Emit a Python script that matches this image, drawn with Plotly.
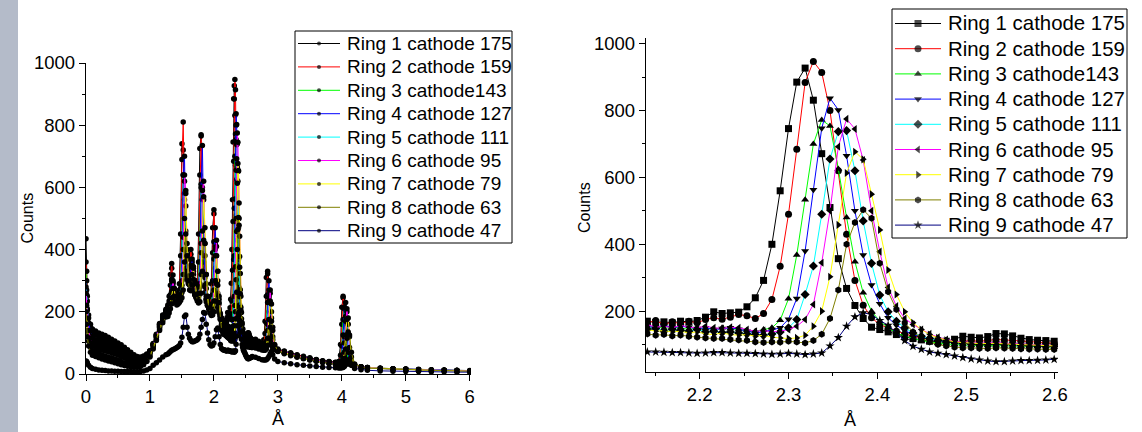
import plotly.graph_objects as go

# ---------------- data ----------------
# d-spacing grid (Å): low-angle part, the 2.14-2.60 Å window, and the high part
x_low = [0, 0.01, 0.02, 0.04, 0.07, 0.1, 0.15, 0.2, 0.25, 0.3, 0.35, 0.4, 0.45, 0.5, 0.55,
         0.6, 0.65, 0.7, 0.75, 0.8, 0.85, 0.9, 0.95, 1.0, 1.05, 1.1, 1.15, 1.2, 1.25,
         1.28, 1.30, 1.32, 1.34, 1.36, 1.38, 1.40, 1.42, 1.44, 1.46, 1.48, 1.50, 1.52, 1.54,
         1.56, 1.58, 1.60, 1.62, 1.64, 1.66, 1.68, 1.70, 1.72, 1.74, 1.76, 1.78, 1.80, 1.82,
         1.84, 1.86, 1.88, 1.90, 1.92, 1.94, 1.96, 1.98, 2.00, 2.02, 2.04, 2.06, 2.08, 2.10, 2.12]
x_zoom = [2.1410, 2.1504, 2.1597, 2.1691, 2.1784, 2.1878, 2.1971, 2.2065, 2.2158, 2.2252,
          2.2345, 2.2439, 2.2532, 2.2626, 2.2719, 2.2813, 2.2906, 2.3000, 2.3093, 2.3187,
          2.3280, 2.3374, 2.3467, 2.3561, 2.3654, 2.3748, 2.3841, 2.3935, 2.4028, 2.4122,
          2.4215, 2.4309, 2.4402, 2.4496, 2.4589, 2.4683, 2.4776, 2.4870, 2.4963, 2.5057,
          2.5150, 2.5244, 2.5337, 2.5431, 2.5524, 2.5618, 2.5711, 2.5805, 2.5898, 2.5992]
x_high = [2.65, 2.7, 2.75, 2.78, 2.8, 2.82, 2.84, 2.86, 2.88, 2.9, 2.92, 2.95, 3.0,
          3.1, 3.2, 3.3, 3.4, 3.5, 3.6, 3.7, 3.8, 3.9, 3.95,
          3.98, 4.0, 4.02, 4.04, 4.06, 4.08, 4.1, 4.12, 4.15, 4.2,
          4.3, 4.4, 4.6, 4.8, 5.0, 5.2, 5.4, 5.6, 5.8, 6.0]

# counts per ring
ring1_low = [435, 330, 250, 190, 160, 145, 138, 132, 128, 124, 118, 112, 106, 100, 94, 86, 78, 70, 62, 56,
             55, 58, 64, 74, 95, 125, 160, 188, 205,
             222, 250, 320, 340, 265, 240, 242, 250, 258, 290, 450, 740, 720, 450, 340, 305, 310, 370,
             385, 320, 270, 255, 262, 300, 450, 725, 769, 470, 320, 262, 232, 220, 215, 225, 290, 470,
             515, 340, 255, 215, 198, 188, 178]
ring2_low = [360, 300, 235, 180, 150, 135, 125, 120, 116, 112, 108, 104, 98, 93, 86, 80, 72, 64, 57, 52,
             52, 56, 63, 75, 98, 128, 162, 190, 208,
             218, 235, 285, 355, 290, 245, 240, 248, 255, 270, 380, 690, 810, 560, 380, 320, 300, 340,
             400, 360, 290, 260, 255, 275, 360, 640, 765, 560, 360, 280, 240, 225, 215, 220, 250, 390,
             528, 420, 290, 230, 205, 190, 180]
ring3_low = [330, 270, 210, 160, 130, 115, 105, 100, 97, 93, 90, 86, 82, 78, 73, 68, 62, 56, 50, 46,
             46, 50, 58, 72, 95, 122, 155, 182, 200,
             205, 222, 255, 300, 280, 235, 230, 238, 245, 250, 290, 450, 640, 580, 390, 310, 290, 305,
             350, 345, 290, 255, 245, 255, 290, 450, 610, 560, 380, 285, 240, 220, 210, 210, 225, 300,
             425, 410, 300, 230, 200, 178, 158]
ring4_low = [300, 255, 205, 165, 138, 122, 110, 105, 102, 98, 95, 90, 86, 82, 77, 71, 65, 58, 52, 47,
             47, 51, 60, 74, 96, 124, 158, 185, 203,
             208, 225, 250, 305, 318, 255, 236, 240, 248, 252, 275, 380, 640, 700, 460, 330, 295, 300,
             345, 370, 320, 265, 248, 250, 270, 360, 600, 735, 470, 310, 250, 222, 210, 208, 215, 255,
             370, 470, 380, 260, 210, 185, 165]
ring5_low = [280, 230, 180, 135, 108, 95, 85, 80, 77, 74, 71, 68, 64, 60, 56, 52, 47, 42, 38, 35,
             36, 40, 50, 65, 90, 118, 150, 178, 196,
             200, 215, 238, 265, 295, 265, 232, 232, 240, 246, 255, 300, 440, 620, 540, 370, 300, 290,
             305, 345, 330, 280, 248, 240, 250, 290, 420, 600, 560, 380, 275, 230, 210, 202, 205, 225,
             290, 400, 410, 300, 225, 185, 160]
ring6_low = [260, 220, 175, 140, 115, 100, 92, 88, 85, 82, 78, 75, 71, 67, 62, 57, 52, 47, 42, 38,
             38, 43, 52, 68, 92, 120, 153, 180, 198,
             202, 218, 240, 262, 300, 275, 238, 232, 238, 245, 252, 285, 400, 640, 590, 400, 310, 290,
             300, 350, 345, 290, 252, 240, 248, 280, 390, 590, 620, 420, 290, 238, 215, 205, 205, 220,
             270, 380, 430, 330, 240, 195, 168]
ring7_low = [220, 180, 140, 105, 85, 75, 70, 66, 62, 58, 55, 52, 48, 44, 40, 36, 32, 29, 26, 25,
             27, 32, 42, 58, 84, 112, 145, 172, 190,
             192, 205, 225, 245, 275, 275, 240, 228, 232, 238, 245, 262, 320, 500, 580, 420, 315, 285,
             290, 320, 340, 300, 258, 240, 240, 260, 320, 460, 570, 470, 320, 250, 218, 205, 200, 208,
             235, 300, 380, 330, 250, 190, 155]
ring8_low = [200, 160, 120, 90, 70, 60, 56, 52, 48, 45, 42, 39, 36, 33, 30, 27, 25, 23, 22, 22,
             24, 30, 40, 55, 80, 108, 140, 165, 183,
             185, 196, 210, 225, 245, 250, 232, 222, 225, 230, 236, 245, 270, 360, 450, 380, 300, 270,
             268, 285, 305, 290, 255, 235, 228, 232, 260, 330, 430, 420, 320, 250, 212, 195, 188, 190,
             200, 235, 290, 285, 230, 175, 140]
ring9_low = [42, 40, 36, 28, 22, 18, 15, 13, 12, 11, 10, 10, 9, 9, 8, 8, 8, 8, 7, 7,
             8, 10, 13, 18, 28, 36, 45, 55, 62,
             64, 68, 72, 76, 78, 80, 82, 85, 88, 92, 100, 118, 150, 185, 190, 150, 128, 115,
             108, 104, 104, 106, 108, 110, 115, 128, 150, 175, 198, 195, 160, 132, 110, 95, 90, 92,
             100, 120, 142, 148, 120, 95, 82]

ring1_zoom = [170, 166, 168, 165, 170, 168, 172, 182, 198, 193, 195, 197, 213, 240, 292, 400, 560,
              746, 885, 927, 831, 671, 510, 357, 268, 217, 178, 152, 145, 138, 130, 124, 118, 114,
              110, 108, 110, 116, 125, 122, 120, 124, 133, 132, 126, 119, 115, 113, 112, 110]
ring2_zoom = [165, 172, 160, 168, 162, 170, 165, 175, 180, 176, 182, 190, 186, 178, 193, 235, 334,
              490, 684, 884, 947, 914, 800, 620, 430, 292, 218, 180, 160, 150, 140, 132, 125, 120,
              116, 112, 110, 108, 110, 112, 110, 112, 115, 114, 112, 110, 108, 106, 105, 104]
ring3_zoom = [150, 155, 148, 152, 150, 145, 150, 148, 146, 150, 148, 145, 143, 140, 145, 150, 173,
              237, 368, 533, 700, 772, 754, 625, 480, 348, 255, 200, 170, 150, 135, 125, 118, 112,
              108, 104, 102, 100, 100, 98, 97, 98, 97, 96, 96, 95, 94, 95, 94, 92]
ring4_zoom = [155, 150, 158, 150, 155, 152, 148, 150, 145, 148, 150, 146, 140, 135, 138, 145, 150,
              176, 238, 380, 563, 747, 837, 802, 665, 500, 368, 278, 222, 180, 158, 142, 130, 122,
              116, 112, 108, 106, 104, 104, 103, 104, 105, 104, 102, 100, 99, 98, 98, 97]
ring5_zoom = [145, 148, 140, 146, 142, 140, 145, 138, 140, 136, 138, 135, 132, 130, 128, 132, 138,
              150, 175, 250, 335, 490, 655, 737, 740, 620, 470, 343, 248, 198, 170, 150, 135, 125,
              118, 112, 108, 106, 104, 102, 100, 101, 102, 100, 100, 98, 97, 96, 96, 95]
ring6_zoom = [160, 152, 155, 150, 158, 152, 150, 155, 150, 148, 152, 150, 145, 140, 142, 138, 140,
              145, 155, 175, 220, 345, 500, 692, 775, 745, 652, 500, 378, 271, 215, 178, 160, 145,
              132, 122, 115, 110, 108, 106, 104, 105, 106, 104, 103, 102, 100, 99, 98, 97]
ring7_zoom = [145, 140, 142, 138, 140, 135, 138, 132, 130, 135, 130, 128, 130, 125, 128, 122, 120,
              118, 120, 128, 155, 200, 303, 458, 613, 677, 654, 550, 443, 323, 250, 198, 165, 145,
              130, 120, 113, 108, 106, 104, 103, 103, 104, 102, 101, 100, 99, 98, 97, 96]
ring8_zoom = [132, 128, 130, 126, 128, 124, 122, 120, 118, 118, 115, 114, 112, 108, 106, 108, 107,
              110, 108, 105, 112, 131, 178, 263, 400, 465, 503, 478, 343, 258, 205, 165, 138, 120,
              108, 100, 96, 92, 90, 90, 88, 88, 90, 89, 88, 87, 86, 86, 85, 85]
ring9_zoom = [78, 78, 77, 76, 76, 75, 74, 75, 76, 76, 75, 74, 74, 73, 72, 71, 72, 74, 72, 70,
              72, 75, 96, 121, 155, 183, 195, 190, 172, 158, 135, 112, 95, 86, 78, 74, 70, 66,
              61, 57, 54, 51, 49, 49, 51, 52, 52, 53, 54, 56]

ring1_high = [112, 105, 100, 110, 170, 310, 330, 200, 120, 95, 88, 84, 80,
              74, 68, 62, 57, 52, 47, 43, 40, 38, 40,
              95, 215, 245, 160, 75, 45, 36, 32, 29, 26,
              23, 21, 19, 17, 16, 15, 14, 13, 12, 11]
ring2_high = [102, 96, 92, 96, 130, 250, 322, 250, 140, 100, 88, 82, 78,
              72, 66, 60, 55, 50, 46, 42, 39, 37, 38,
              60, 160, 250, 215, 110, 55, 38, 32, 28, 25,
              22, 20, 18, 16, 15, 14, 13, 12, 11, 10]
ring3_high = [92, 88, 84, 85, 100, 165, 255, 270, 170, 105, 85, 78, 74,
              68, 62, 57, 52, 48, 44, 40, 37, 35, 35,
              42, 90, 175, 210, 150, 75, 45, 35, 30, 26,
              22, 20, 18, 16, 15, 13, 12, 12, 11, 10]
ring4_high = [98, 92, 88, 87, 95, 130, 230, 300, 230, 130, 95, 82, 76,
              70, 64, 58, 53, 49, 45, 41, 38, 36, 35,
              38, 60, 125, 215, 230, 140, 70, 42, 32, 27,
              23, 21, 18, 17, 15, 14, 13, 12, 11, 10]
ring5_high = [95, 90, 86, 85, 88, 105, 160, 245, 260, 180, 110, 82, 74,
              68, 62, 56, 51, 47, 43, 39, 36, 34, 33,
              34, 40, 62, 120, 185, 200, 130, 70, 38, 27,
              22, 20, 18, 16, 15, 13, 12, 11, 10, 10]
ring6_high = [97, 92, 88, 86, 88, 100, 140, 230, 270, 200, 120, 85, 76,
              70, 64, 58, 53, 48, 44, 40, 37, 35, 34,
              34, 38, 52, 100, 170, 210, 160, 85, 42, 28,
              23, 21, 18, 16, 15, 14, 12, 12, 11, 10]
ring7_high = [96, 90, 86, 84, 84, 90, 115, 175, 235, 225, 150, 92, 75,
              68, 62, 56, 51, 46, 42, 38, 35, 33, 32,
              32, 34, 42, 70, 125, 175, 180, 120, 55, 30,
              23, 20, 18, 16, 14, 13, 12, 11, 10, 9]
ring8_high = [84, 80, 77, 76, 76, 80, 92, 115, 150, 170, 140, 95, 72,
              65, 59, 54, 49, 45, 41, 37, 34, 32, 31,
              31, 32, 36, 50, 80, 115, 135, 125, 70, 32,
              22, 19, 17, 15, 14, 13, 12, 11, 10, 9]
ring9_high = [54, 50, 46, 45, 45, 46, 50, 56, 65, 72, 62, 48, 40,
              36, 33, 30, 28, 26, 24, 22, 21, 20, 19,
              19, 20, 21, 24, 30, 38, 45, 44, 30, 18,
              14, 12, 10, 9, 8, 8, 7, 7, 6, 6]

ring_names = ["Ring 1 cathode 175", "Ring 2 cathode 159", "Ring 3 cathode143",
              "Ring 4 cathode 127", "Ring 5 cathode 111", "Ring 6 cathode 95",
              "Ring 7 cathode 79", "Ring 8 cathode 63", "Ring 9 cathode 47"]
line_colors = ["#000000", "#ff0000", "#00ff00", "#0000ff", "#00ffff",
               "#ff00ff", "#ffff00", "#808000", "#000080"]
zoom_symbols = ["square", "circle", "triangle-up", "triangle-down", "diamond",
                "triangle-left", "triangle-right", "hexagon", "star"]

low_sets = [ring1_low, ring2_low, ring3_low, ring4_low, ring5_low, ring6_low, ring7_low, ring8_low, ring9_low]
zoom_sets = [ring1_zoom, ring2_zoom, ring3_zoom, ring4_zoom, ring5_zoom, ring6_zoom, ring7_zoom, ring8_zoom, ring9_zoom]
high_sets = [ring1_high, ring2_high, ring3_high, ring4_high, ring5_high, ring6_high, ring7_high, ring8_high, ring9_high]

for lo, zo, hi in zip(low_sets, zoom_sets, high_sets):
    assert len(lo) == len(x_low) and len(zo) == len(x_zoom) and len(hi) == len(x_high)

FONT = "Liberation Sans, Arial, sans-serif"
W, H = 1142, 432
FULL_MARKER = 5.5
FULL_LEGEND_MARKER = 4
ZOOM_MARKER = 7

fig = go.Figure()

# full pattern, 0-6 Å
x_full = x_low + x_zoom + x_high
for name, color, lo, zo, hi in zip(ring_names, line_colors, low_sets, zoom_sets, high_sets):
    fig.add_trace(go.Scatter(
        x=x_full, y=lo + zo + hi, name=name, mode="lines+markers", showlegend=False,
        line=dict(color=color, width=1),
        marker=dict(symbol="circle", size=FULL_MARKER, color="black"),
        xaxis="x", yaxis="y"))

# close-up of the 2.3 Å reflection
for name, color, sym, zo in zip(ring_names, line_colors, zoom_symbols, zoom_sets):
    fig.add_trace(go.Scatter(
        x=x_zoom, y=zo, name=name, mode="lines+markers", showlegend=False,
        line=dict(color=color, width=1),
        marker=dict(symbol=sym, size=ZOOM_MARKER, color="black", line=dict(width=0)),
        xaxis="x2", yaxis="y2"))

# ---------------- legend boxes (pixel layout on a full-page overlay axis) ----------------
legend_specs = [
    dict(box=(295, 31, 512, 243), sample=(298, 340), text_x=345, row0=43.5, step=23.4,
         font=19, size=FULL_LEGEND_MARKER, symbols=["circle"] * 9),
    dict(box=(892, 9, 1127, 238), sample=(895, 941), text_x=946, row0=23.5, step=25.2,
         font=20.4, size=ZOOM_MARKER, symbols=zoom_symbols),
]

shapes = [dict(type="rect", xref="paper", yref="paper", x0=0, x1=18 / W, y0=0, y1=1,
               fillcolor="#b4bbc9", line=dict(width=0), layer="below")]
annotations = []
for spec in legend_specs:
    bx0, by0, bx1, by1 = spec["box"]
    shapes.append(dict(type="rect", xref="paper", yref="paper",
                       x0=bx0 / W, x1=bx1 / W, y0=1 - by1 / H, y1=1 - by0 / H,
                       fillcolor="white", line=dict(color="black", width=1), layer="below"))
    sx0, sx1 = spec["sample"]
    for i, (name, color, sym) in enumerate(zip(ring_names, line_colors, spec["symbols"])):
        yc = spec["row0"] + i * spec["step"]
        fig.add_trace(go.Scatter(
            x=[sx0, (sx0 + sx1) / 2, sx1], y=[yc, yc, yc], mode="lines+markers",
            showlegend=False, hoverinfo="skip",
            line=dict(color=color, width=1),
            marker=dict(symbol=sym, size=[0, spec["size"], 0], color="black", line=dict(width=0)),
            xaxis="x3", yaxis="y3"))
        annotations.append(dict(text=name, x=spec["text_x"] / W, y=1 - yc / H,
                                xref="paper", yref="paper", xanchor="left", yanchor="middle",
                                showarrow=False,
                                font=dict(family=FONT, size=spec["font"], color="black")))

# axis titles
title_font = dict(family=FONT, size=16, color="black")
annotations += [
    dict(text="Counts", x=26.5 / W, y=1 - 218 / H, textangle=-90, font=title_font),
    dict(text="Å", x=278 / W, y=1 - 419 / H, font=dict(family=FONT, size=18, color="black")),
    dict(text="Counts", x=585 / W, y=1 - 208 / H, textangle=-90, font=title_font),
    dict(text="Å", x=850 / W, y=1 - 420 / H, font=dict(family=FONT, size=18, color="black")),
]
for a in annotations[-4:]:
    a.update(xref="paper", yref="paper", xanchor="center", yanchor="middle", showarrow=False)

tick_font = dict(family=FONT, size=18.5, color="black")


def axis(**kw):
    base = dict(showline=True, linecolor="black", linewidth=1.3, mirror=False,
                ticks="outside", ticklen=6, tickwidth=1.3, tickcolor="black",
                showgrid=False, zeroline=False, tickfont=tick_font, automargin=False,
                minor=dict(ticks="outside", ticklen=3, tickwidth=1.1, tickcolor="black"))
    minor_dtick = kw.pop("minor_dtick")
    base.update(kw)
    base["minor"]["dtick"] = minor_dtick
    return base


fig.update_layout(
    template="none",
    width=W, height=H, autosize=False,
    margin=dict(l=0, r=0, t=0, b=0, pad=0),
    paper_bgcolor="white", plot_bgcolor="rgba(0,0,0,0)",
    font=dict(family=FONT, color="black"),
    showlegend=False,
    xaxis=axis(domain=[86 / W, 471 / W], range=[0, 6.02], dtick=1, tick0=0,
               minor_dtick=0.5, anchor="y"),
    yaxis=axis(domain=[(H - 374) / H, (H - 63) / H], range=[0, 1000], dtick=200, tick0=0,
               minor_dtick=100, anchor="x"),
    xaxis2=axis(domain=[646 / W, 1058 / W], range=[2.1395, 2.6035], dtick=0.1, tick0=2.0,
                tickformat=".1f", minor_dtick=0.05, anchor="y2"),
    yaxis2=axis(domain=[(H - 372) / H, (H - 38) / H], range=[18, 1017], dtick=200, tick0=0,
                minor_dtick=100, anchor="x2"),
    xaxis3=dict(domain=[0, 1], range=[0, W], visible=False, fixedrange=True,
                automargin=False, anchor="y3"),
    yaxis3=dict(domain=[0, 1], range=[H, 0], visible=False, fixedrange=True,
                automargin=False, anchor="x3"),
    shapes=shapes,
    annotations=annotations,
)

fig.write_html("out.html")
